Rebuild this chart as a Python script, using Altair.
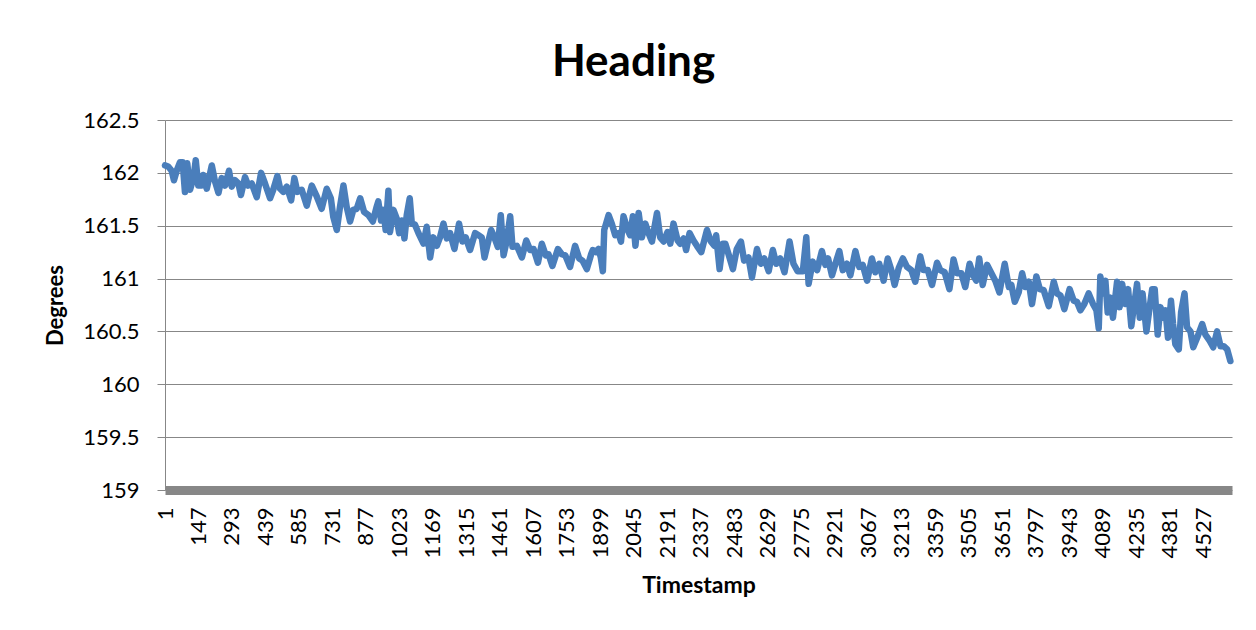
import altair as alt
import pandas as pd

# Heading readings (timestamp, degrees)
ts_1 = [1, 15, 30, 40, 52, 66, 78, 88, 98, 110, 125, 135, 146, 161, 168, 183, 205, 219, 234, 248,
        263, 280, 292, 306, 321, 332, 350, 364, 379, 401, 420, 437, 459, 473, 491, 503, 517, 532,
        551, 565, 578, 597, 619, 641, 660, 684, 706, 724, 735, 750, 764, 779, 793, 808, 822, 837,
        852, 869, 888, 907, 924]
hd_1 = [162.07, 162.06, 162.02, 161.93, 162.02, 162.10, 162.10, 161.82, 162.09, 161.84, 161.95,
        162.12, 161.88, 161.88, 161.98, 161.85, 162.07, 161.92, 161.81, 161.95, 161.88, 162.02,
        161.87, 161.93, 161.90, 161.79, 161.96, 161.88, 161.90, 161.77, 162.00, 161.90, 161.76,
        161.84, 161.97, 161.85, 161.82, 161.87, 161.74, 161.95, 161.82, 161.84, 161.69, 161.88,
        161.79, 161.66, 161.85, 161.76, 161.58, 161.46, 161.68, 161.88, 161.68, 161.54, 161.65,
        161.66, 161.76, 161.63, 161.60, 161.54, 161.68]

ts_2 = [931, 943, 953, 963, 975, 982, 997, 1011, 1022, 1033, 1045, 1055, 1068, 1077, 1091, 1106,
        1128, 1142, 1157, 1171, 1186, 1200, 1215, 1230, 1244, 1263, 1283, 1298, 1312, 1331, 1353,
        1368, 1382, 1394, 1408, 1423, 1437, 1452, 1465, 1477, 1491, 1506, 1516, 1535, 1557, 1576,
        1593, 1608, 1627, 1644, 1661, 1673, 1690, 1714, 1731, 1746, 1767, 1789, 1807, 1821, 1840,
        1859]
hd_2 = [161.73, 161.55, 161.65, 161.46, 161.83, 161.44, 161.65, 161.57, 161.43, 161.55, 161.38,
        161.60, 161.76, 161.52, 161.51, 161.43, 161.33, 161.49, 161.20, 161.39, 161.31, 161.39,
        161.52, 161.38, 161.43, 161.28, 161.52, 161.35, 161.39, 161.27, 161.43, 161.41, 161.39,
        161.20, 161.33, 161.46, 161.39, 161.30, 161.60, 161.22, 161.36, 161.59, 161.30, 161.31,
        161.20, 161.36, 161.27, 161.28, 161.15, 161.33, 161.22, 161.23, 161.12, 161.28, 161.23,
        161.22, 161.11, 161.31, 161.19, 161.17, 161.09, 161.23]

ts_3 = [1866, 1881, 1891, 1901, 1910, 1916, 1935, 1949, 1964, 1978, 1989, 2000, 2018, 2029, 2041,
        2052, 2066, 2080, 2095, 2109, 2124, 2146, 2160, 2175, 2192, 2204, 2218, 2236, 2247, 2262,
        2273, 2288, 2305, 2320, 2339, 2364, 2381, 2396, 2404, 2419, 2433, 2444, 2458, 2477, 2494,
        2512, 2526, 2545, 2560, 2582, 2599, 2614, 2633, 2651, 2666, 2683, 2702, 2724, 2741, 2759,
        2782, 2797, 2807]
hd_3 = [161.27, 161.25, 161.28, 161.20, 161.07, 161.46, 161.60, 161.52, 161.41, 161.43, 161.35,
        161.59, 161.46, 161.41, 161.59, 161.31, 161.62, 161.39, 161.52, 161.43, 161.35, 161.62,
        161.39, 161.35, 161.44, 161.33, 161.52, 161.36, 161.33, 161.38, 161.27, 161.43, 161.36,
        161.31, 161.25, 161.46, 161.35, 161.31, 161.41, 161.09, 161.33, 161.33, 161.23, 161.09,
        161.28, 161.35, 161.17, 161.20, 161.01, 161.28, 161.14, 161.19, 161.07, 161.27, 161.14,
        161.19, 161.06, 161.35, 161.14, 161.07, 161.07, 161.39, 160.95]

ts_4 = [2825, 2844, 2865, 2880, 2892, 2909, 2924, 2941, 2956, 2974, 2989, 3011, 3028, 3043, 3062,
        3083, 3098, 3115, 3134, 3152, 3168, 3182, 3200, 3218, 3236, 3255, 3272, 3294, 3308, 3327,
        3345, 3367, 3381, 3400, 3421, 3439, 3454, 3473, 3490, 3509, 3527, 3538, 3551, 3566, 3585,
        3604, 3621, 3639, 3662, 3680, 3691, 3706, 3723, 3738, 3752]
hd_4 = [161.16, 161.08, 161.26, 161.13, 161.19, 161.03, 161.14, 161.26, 161.08, 161.14, 161.03,
        161.26, 161.11, 161.13, 160.98, 161.19, 161.06, 161.14, 160.98, 161.19, 161.08, 160.94,
        161.10, 161.19, 161.11, 161.08, 160.97, 161.21, 161.08, 161.08, 160.94, 161.15, 161.08,
        161.06, 160.90, 161.18, 161.05, 161.05, 160.92, 161.14, 161.02, 160.98, 161.19, 160.94,
        161.13, 161.05, 160.98, 160.87, 161.14, 160.92, 160.94, 160.78, 160.87, 161.05, 160.92]

ts_5 = [3767, 3781, 3800, 3815, 3832, 3854, 3876, 3890, 3905, 3922, 3945, 3963, 3977, 3992, 4009,
        4028, 4047, 4062, 4072, 4079, 4091, 4101, 4111, 4123, 4134, 4152, 4163, 4174, 4188, 4200,
        4214, 4225, 4239, 4251, 4263, 4280, 4294, 4305, 4316, 4329, 4341, 4353, 4363, 4374, 4387,
        4396, 4406, 4421, 4431, 4446, 4457, 4472, 4484, 4501, 4523, 4537, 4556, 4571, 4588, 4603,
        4617, 4632, 4646]
hd_5 = [160.97, 160.76, 161.02, 160.90, 160.89, 160.74, 160.97, 160.86, 160.84, 160.71, 160.90,
        160.79, 160.78, 160.70, 160.76, 160.86, 160.76, 160.70, 160.53, 161.02, 160.86, 160.98,
        160.68, 160.82, 160.63, 160.97, 160.73, 160.95, 160.76, 160.90, 160.55, 160.73, 160.95,
        160.63, 160.86, 160.50, 160.73, 160.90, 160.90, 160.47, 160.73, 160.63, 160.70, 160.44,
        160.79, 160.57, 160.38, 160.33, 160.68, 160.86, 160.54, 160.50, 160.35, 160.44, 160.57,
        160.47, 160.41, 160.35, 160.50, 160.36, 160.36, 160.33, 160.22]

x_ticks = [1, 147, 293, 439, 585, 731, 877, 1023, 1169, 1315, 1461, 1607, 1753, 1899, 2045, 2191,
           2337, 2483, 2629, 2775, 2921, 3067, 3213, 3359, 3505, 3651, 3797, 3943, 4089, 4235,
           4381, 4527]
y_ticks = [159, 159.5, 160, 160.5, 161, 161.5, 162, 162.5]
n_points = 4653

df = pd.DataFrame({
    "Timestamp": ts_1 + ts_2 + ts_3 + ts_4 + ts_5,
    "Degrees": hd_1 + hd_2 + hd_3 + hd_4 + hd_5,
})

FONT = "Lato"
GRAY = "#878787"

chart = alt.Chart(df).mark_line(
    color="#4A7EBB", strokeWidth=6.5, strokeJoin="round", strokeCap="round"
).encode(
    x=alt.X("Timestamp:Q",
            scale=alt.Scale(domain=[1, n_points], nice=False, zero=False),
            axis=alt.Axis(values=x_ticks, format="d", labelAngle=-90, labelFontSize=22,
                          labelFont=FONT, labelColor="#000000", ticks=False, tickSize=0,
                          labelPadding=17, grid=False, domainColor="#878787", domainWidth=9,
                          labelOverlap=False, labelFlush=False,
                          title="Timestamp", titleFont=FONT, titleFontSize=23,
                          titleFontWeight="bold", titleColor="#000000",
                          titleY=95, titleBaseline="middle")),
    y=alt.Y("Degrees:Q",
            scale=alt.Scale(domain=[159, 162.5], nice=False, zero=False),
            axis=alt.Axis(values=y_ticks, format="~g", labelFontSize=22, labelFont=FONT,
                          labelColor="#000000", tickSize=8, tickColor=GRAY,
                          labelPadding=18, domainColor=GRAY, domainWidth=1,
                          grid=True, gridColor=GRAY, gridWidth=1, labelOverlap=False,
                          labelFlush=False,
                          title="Degrees", titleFont=FONT, titleFontSize=22,
                          titleFontWeight="bold", titleColor="#000000",
                          titleX=-110, titleY=185, titleBaseline="middle")),
).properties(
    width=1067,
    height=370,
    title=alt.TitleParams("Heading", font=FONT, fontSize=44, fontWeight="bold",
                          color="#000000", anchor="middle", dx=-65, offset=24),
    autosize=alt.AutoSizeParams(type="none"),
    padding={"left": 157, "top": 112, "right": 16, "bottom": 128},
).configure_view(stroke=None)

chart.save("out.html", embed_options={"renderer": "svg", "actions": False})
